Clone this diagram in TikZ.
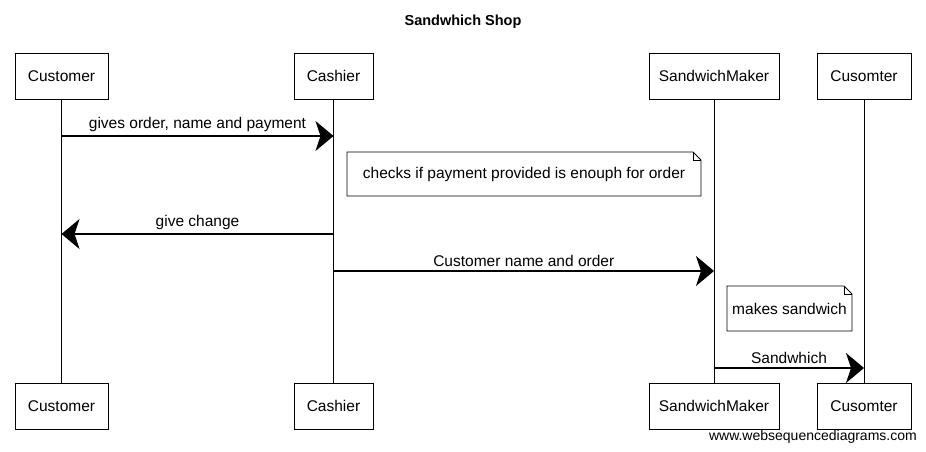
\documentclass[tikz,border=0pt]{standalone}
\usepackage{fontspec}
\setmainfont{Liberation Sans}
\usetikzlibrary{arrows.meta}
\begin{document}
\begin{tikzpicture}[x=1pt,y=-1pt,
  actor/.style={draw,line width=0.9pt,minimum height=46pt,inner sep=0pt,font=\fontsize{15.5}{17}\selectfont},
  life/.style={line width=0.9pt},
  msg/.style={line width=1.1pt,-{Stealth[length=18pt,width=30pt,inset=5pt]}},
  lbl/.style={font=\fontsize{15.5}{17}\selectfont,inner sep=0pt},
  notebox/.style={line width=0.9pt}
]
\useasboundingbox (0,0) rectangle (926,452);
\node[font=\bfseries\fontsize{14.5}{16}\selectfont] (title) at (463,22) {Sandwhich Shop};
% top participants
\node[actor,minimum width=93pt] (ct) at (61.5,76) {Customer};
\node[actor,minimum width=79pt] (cat) at (333.5,76) {Cashier};
\node[actor,minimum width=130pt] (smt) at (714,76) {SandwichMaker};
\node[actor,minimum width=94pt] (cut) at (864,76) {Cusomter};
% bottom participants
\node[actor,minimum width=93pt] (cb) at (61.5,406) {Customer};
\node[actor,minimum width=79pt] (cab) at (333.5,406) {Cashier};
\node[actor,minimum width=130pt] (smb) at (714,406) {SandwichMaker};
\node[actor,minimum width=94pt] (cub) at (864,406) {Cusomter};
% lifelines
\draw[life] (ct) -- (cb);
\draw[life] (cat) -- (cab);
\draw[life] (smt) -- (smb);
\draw[life] (cut) -- (cub);
% message rows
\coordinate (r1) at (0,136);
\coordinate (r2) at (0,234);
\coordinate (r3) at (0,271);
\coordinate (r4) at (0,368);
\draw[msg] (ct |- r1) -- node[lbl,above=4pt] {gives order, name and payment} (cat |- r1);
\draw[msg] (cat |- r2) -- node[lbl,above=4pt] {give change} (ct |- r2);
\draw[msg] (cat |- r3) -- node[lbl,above=4pt] {Customer name and order} (smt |- r3);
\draw[msg] (smt |- r4) -- node[lbl,above=4pt] {Sandwhich} (cut |- r4);
% notes
\draw[notebox,fill=white] (347,152) -- (693,152) -- (701,160) -- (701,196) -- (347,196) -- cycle;
\draw[notebox] (693,152) -- (693,160) -- (701,160);
\node[lbl] (n1) at (524,174) {checks if payment provided is enouph for order};
\draw[notebox,fill=white] (727,286) -- (844,286) -- (852,294) -- (852,331) -- (727,331) -- cycle;
\draw[notebox] (844,286) -- (844,294) -- (852,294);
\node[lbl] (n2) at (789.5,308.5) {makes sandwich};
% footer
\node[anchor=east,font=\fontsize{14}{16}\selectfont,inner sep=0pt] (foot) at (917,437) {www.websequencediagrams.com};
\end{tikzpicture}
\end{document}
